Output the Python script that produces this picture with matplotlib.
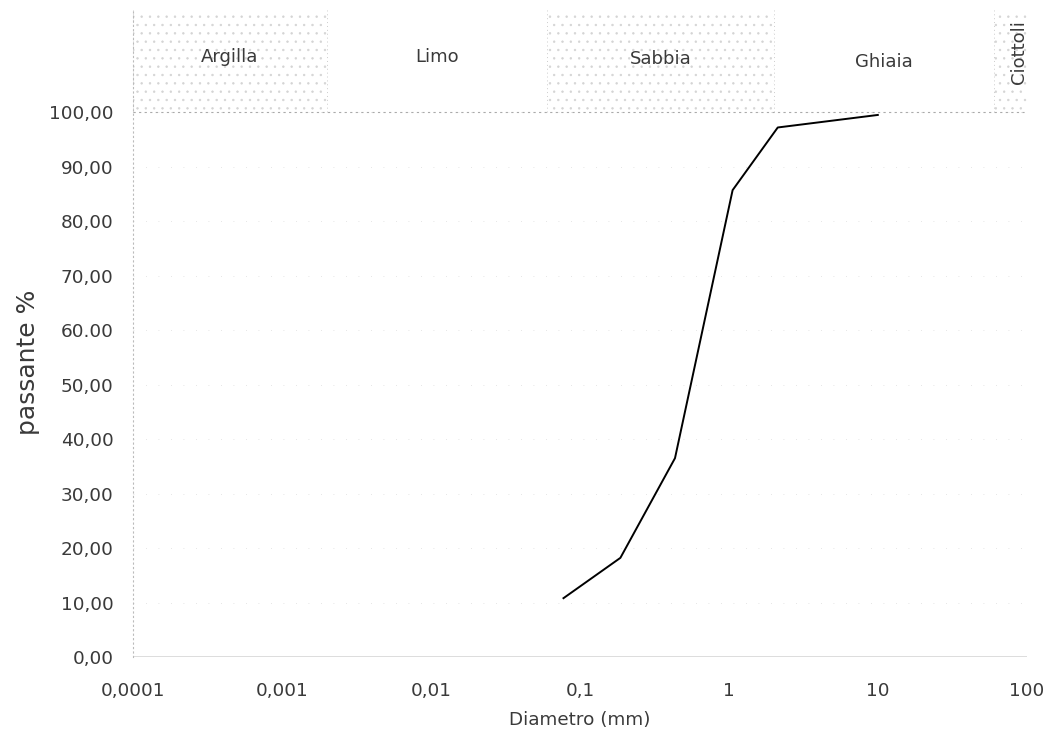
import math
import matplotlib
matplotlib.use("Agg")
import matplotlib.pyplot as plt
from matplotlib.patches import Rectangle

plt.rcParams['font.family'] = ['DejaVu Sans']
plt.rcParams['hatch.linewidth'] = 0.5

# Grain size curve
diam_mm = [0.0776, 0.187, 0.435, 1.06, 2.13, 10.0]
passing = [10.8, 18.2, 36.5, 85.7, 97.2, 99.5]

# Soil classes band
classes = ["Argilla", "Limo", "Sabbia", "Ghiaia", "Ciottoli"]
class_lo = [0.0001, 0.002, 0.06, 2.0, 60.0]
class_hi = [0.002, 0.06, 2.0, 60.0, 100.0]
class_stipple = [True, False, True, False, True]
class_label_y = [110.2, 110.2, 109.7, 109.2, 111.0]

xticks = [0.0001, 0.001, 0.01, 0.1, 1, 10, 100]
xticklabels = ["0,0001", "0,001", "0,01", "0,1", "1", "10", "100"]
yticks = [0, 10, 20, 30, 40, 50, 60, 70, 80, 90, 100]
yticklabels = ["0,00", "10,00", "20,00", "30,00", "40,00", "50,00",
               "60.00", "70,00", "80,00", "90,00", "100,00"]

TXT = '#3a3a3a'

fig = plt.figure(figsize=(10.49, 7.34), dpi=100)
ax = fig.add_axes([0.1268, 0.1049, 0.852, 0.881])
ax.set_xscale('log')
ax.set_xlim(0.0001, 100)
ax.set_ylim(0, 118.7)

# horizontal faint grid
for yv in yticks[1:]:
    ax.axhline(yv, color='#dddddd', lw=0.6, ls=(0, (1, 14)), zorder=0)
ax.axhline(0, color='#555555', lw=1.0, zorder=1)
ax.axhline(100, color='#aaaaaa', lw=0.8, ls=(0, (2, 3)), zorder=1)

# band
for name, lo, hi, st, ly in zip(classes, class_lo, class_hi, class_stipple, class_label_y):
    if st:
        r = Rectangle((lo, 100), hi - lo, 18.7, facecolor='none',
                      edgecolor='#d4d4d4', hatch='..', lw=0, zorder=0)
        ax.add_patch(r)
        for xe in (lo, hi):
            ax.plot([xe, xe], [100, 118.7], color='#cccccc', lw=0.7,
                    ls=(0, (1, 3)), zorder=0)
    xc = 10 ** ((math.log10(lo) + math.log10(hi)) / 2)
    if name == "Ciottoli":
        ax.text(xc * 1.15, ly, name, rotation=90, ha='center', va='center',
                fontsize=13, color=TXT)
    else:
        ax.text(xc, ly, name, ha='center', va='center',
                fontsize=13, color=TXT)

ax.plot(diam_mm, passing, color='black', lw=1.4, zorder=3)

for s in ['top', 'right', 'bottom']:
    ax.spines[s].set_visible(False)
ax.spines['left'].set_color('#bbbbbb')
ax.spines['left'].set_linestyle((0, (1, 3)))
ax.spines['left'].set_linewidth(0.8)
ax.spines['left'].set_bounds(0, 118.7)

ax.set_xticks(xticks)
ax.set_xticklabels(xticklabels)
ax.minorticks_off()
ax.set_yticks(yticks)
ax.set_yticklabels(yticklabels)
ax.tick_params(axis='both', length=0, labelsize=13.3, colors=TXT)
ax.tick_params(axis='x', pad=18)
ax.tick_params(axis='y', pad=14)

ax.set_xlabel("Diametro (mm)", fontsize=13.2, color=TXT, labelpad=8)
ax.set_ylabel("passante %", fontsize=18, color=TXT)
ax.yaxis.set_label_coords(-0.104, 0.456)

fig.savefig("out.png", dpi=100, facecolor='white')
